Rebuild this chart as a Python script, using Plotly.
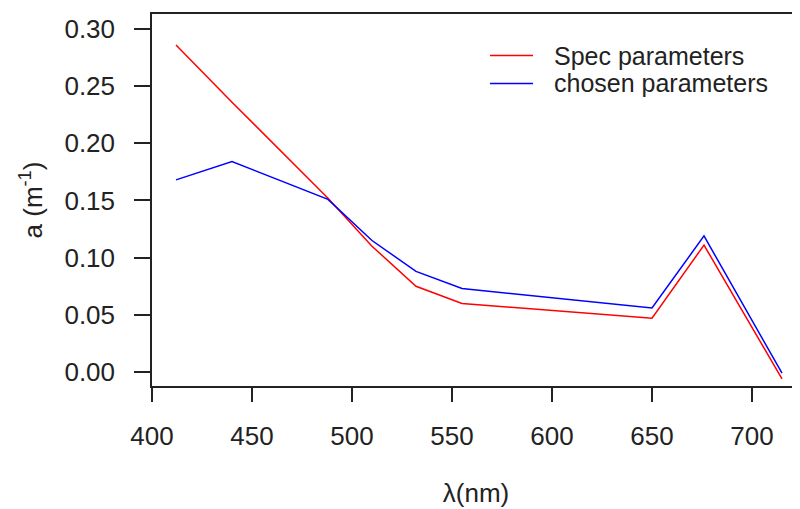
import plotly.graph_objects as go

wavelength = [412, 440, 488, 510, 532, 555, 650, 676, 715]
spec_params = [0.286, 0.236, 0.152, 0.110, 0.075, 0.060, 0.047, 0.111, -0.006]
chosen_params = [0.168, 0.184, 0.151, 0.115, 0.088, 0.073, 0.056, 0.119, -0.001]
series_names = ["Spec parameters", "chosen parameters"]
series_colors = ["#ff0000", "#0000ff"]
x_ticks = [400, 450, 500, 550, 600, 650, 700]
y_ticks = [0.00, 0.05, 0.10, 0.15, 0.20, 0.25, 0.30]
y_tick_text = ["0.00", "0.05", "0.10", "0.15", "0.20", "0.25", "0.30"]

FONT = "Liberation Sans, Arial, sans-serif"
INK = "#222222"

# page body has an 8px margin: figure is 792x501 so the plot lands at the
# same absolute pixels as the reference
L, T, B = 144, 6, 123
PW = 792 - L  # plot width in px (range 400..724 at 2 px/nm)
PH = 501 - T - B

fig = go.Figure()
for name, vals, col in zip(series_names, [spec_params, chosen_params], series_colors):
    fig.add_trace(go.Scatter(x=wavelength, y=vals, mode="lines", name=name,
                             line=dict(color=col, width=1.5), showlegend=False))

# manual legend
legend_rows_px = [55.5 - 14, 83.5 - 14]  # distance below plot top
for name, col, dy in zip(series_names, series_colors, legend_rows_px):
    yy = 1 - dy / PH
    fig.add_shape(type="line", xref="paper", yref="paper",
                  x0=(490 - 152) / PW, x1=(533 - 152) / PW, y0=yy, y1=yy,
                  line=dict(color=col, width=1.5))
    fig.add_annotation(xref="paper", yref="paper", x=(552 - 152) / PW, y=yy,
                       text=name, showarrow=False, xanchor="left", yanchor="middle",
                       font=dict(family=FONT, size=25, color=INK))

fig.update_layout(
    width=792, height=501,
    margin=dict(l=L, r=0, t=T, b=B),
    paper_bgcolor="white", plot_bgcolor="white",
    font=dict(family=FONT, size=26, color=INK),
    xaxis=dict(range=[400, 724], tickvals=x_ticks, ticks="outside", ticklen=14,
               tickwidth=1.5, tickcolor=INK, showline=True, linewidth=1.5,
               linecolor=INK, mirror=True, showgrid=False, zeroline=False,
               ticklabelstandoff=12,
               title=dict(text="λ(nm)", standoff=34, font=dict(size=26))),
    yaxis=dict(range=[-0.01225, 0.3131], tickvals=y_ticks, ticktext=y_tick_text,
               ticks="outside", ticklen=16, tickwidth=1.5, tickcolor=INK,
               showline=True, linewidth=1.5, linecolor=INK, showgrid=False,
               zeroline=False, ticklabelstandoff=14,
               title=dict(text="a (m<sup>-1</sup>)", standoff=14, font=dict(size=26))),
)

fig.write_html("out.html")
